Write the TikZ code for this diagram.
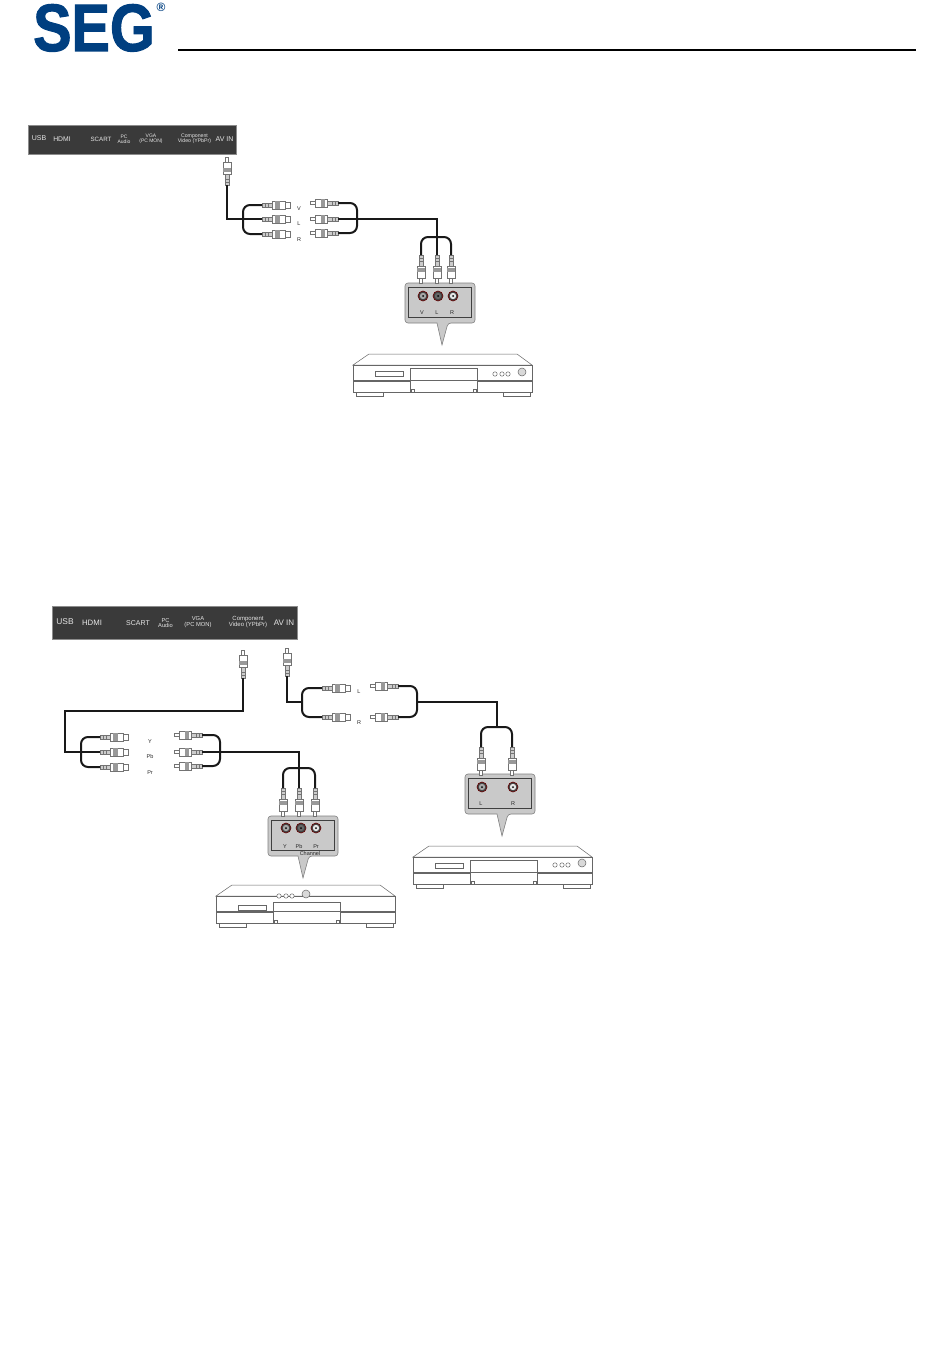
\documentclass[tikz,border=0pt]{standalone}
\usepackage{fontspec}
\setmainfont{Liberation Sans}
\newfontfamily\logofont[BoldFeatures={FakeBold=1.6}]{Liberation Sans}
\usetikzlibrary{calc}
\definecolor{segblue}{HTML}{003F80}
\definecolor{barfill}{HTML}{3A3A3A}
\definecolor{callfill}{HTML}{C9C9C9}
\tikzset{
	cable/.style={line width=2pt, draw=black!90},
	thincable/.style={line width=1.5pt, draw=black!90},
	bar/.style={fill=barfill, draw=black!45, line width=.6pt},
	bigtxt/.style={text=black!10, inner sep=0pt, font=\fontsize{#1}{#1}\selectfont},
	smalltxt/.style={text=black!10, inner sep=0pt, align=center, font=\fontsize{#1}{#1}\selectfont},
	tinytxt/.style={text=black!85, inner sep=0pt, font=\fontsize{5.5}{5.5}\selectfont},
	part/.style={draw=black!60, line width=.5pt},
	jackpart/.style={draw=black!55, line width=.4pt},
	femalejack/.pic={
		\draw[jackpart, fill=black!20] (0,-2) rectangle (10,2);
		\draw[jackpart] (3,-2) -- (3,2) (6,-2) -- (6,2);
		\draw[jackpart, fill=white] (10,-4) rectangle (23,4);
		\fill[black!40] (13,-4) rectangle (18,4);
		\draw[jackpart, fill=white] (23,-3) rectangle (28,3);
		\coordinate (-tail) at (0,0);
	},
	malejack/.pic={
		\draw[jackpart, fill=black!20] (0,-2) rectangle (11,2);
		\draw[jackpart] (3,-2) -- (3,2) (6,-2) -- (6,2);
		\draw[jackpart, fill=white] (11,-4) rectangle (23,4);
		\fill[black!40] (13,-4) rectangle (17,4);
		\draw[jackpart, fill=white] (23,-1.5) rectangle (28,1.5);
		\coordinate (-tail) at (0,0);
	},
	socket/.pic={
		\draw[draw=black!60!red, line width=.6pt, fill=black!75] (0,0) circle (5);
		\fill[#1] (0,0) circle (3.2);
		\fill[black] (0,0) circle (1);
	},
	player/.pic={
		\draw[part, fill=white] (0,0) -- (16,-11) -- (164,-11) -- (179,0) -- cycle;
		\draw[part, fill=white] (0,0) rectangle (179,27);
		\draw[part] (0,15) -- (179,15) (0,16.5) -- (179,16.5);
		\draw[line width=1pt, black!60] (0,27) -- (179,27);
		\draw[part] (3,27) -- (3,31) -- (30,31) -- (30,27);
		\draw[part] (150,27) -- (150,31) -- (177,31) -- (177,27);
		\draw[part, fill=white] (22,6+#1) rectangle (50,11+#1);
		\draw[part, fill=white] (57,3+#1) rectangle (124,27);
		\draw[part] (57,15) -- (124,15);
		\draw[part] (58,24) rectangle (61,27) (120,24) rectangle (123,27);
	},
	controls/.pic={
		\foreach \b in {0,7,13}
		{
			\draw[part, fill=white] (\b,0) circle (2.2);
		}
		\draw[part, fill=black!15] (27,-2) circle (4);
	},
}
\begin{document}
\begin{tikzpicture}[x=1pt, y=-1pt]
\useasboundingbox (0,0) rectangle (950,1370);

\node[text=segblue, inner sep=0pt, anchor=base, xscale=.86, font=\logofont\bfseries\fontsize{67}{67}\selectfont] (logo) at (94,51) {SEG};
\node[text=segblue, inner sep=0pt, font=\bfseries\fontsize{12}{12}\selectfont] (regmark) at (161,7) {®};
\coordinate (ruleA) at (178,50);
\coordinate (ruleB) at (916,50);
\draw[line width=2pt] (ruleA) -- (ruleB);

% upper bar
\draw[bar] (28,125) rectangle (236,154);
\node[bigtxt=7] (1usb) at (39,138.5) {USB};
\node[bigtxt=6.8] (1hdmi) at (62,139) {HDMI};
\node[bigtxt=6.2] (1scart) at (101,139) {SCART};
\node[smalltxt=5] (1pc) at (124,139.5) {PC\\Audio};
\node[smalltxt=5] (1vga) at (151,139) {VGA\\(PC MON)};
\node[smalltxt=5.2] (1comp) at (194.5,139) {Component\\Video (YPbPr)};
\node[bigtxt=7] (1av) at (224.5,139) {AV IN};

\pic[rotate=90] (1T) at (227,185) {malejack};

\foreach \n/\y in {V/205,L/219,R/234}
{
	\pic (1\n f) at (262,\y) {femalejack};
}
\foreach \n/\y in {V/203,L/219,R/233}
{
	\pic[rotate=180] (1\n m) at (338,\y) {malejack};
}
\foreach \n/\y in {V/209,L/224,R/240}
{
	\node[tinytxt] (1lab\n) at (299,\y) {\n};
}
\coordinate (1loopL) at (243,219);
\coordinate (1loopR) at (357,219);
\coordinate (1fork) at (437,237);

\draw[cable, rounded corners=7pt] (1Vf-tail) -| (1loopL) |- (1Rf-tail);
\draw[cable] (1T-tail) |- (1Lf-tail);
\draw[cable, rounded corners=7pt] (1Vm-tail) -| (1loopR) |- (1Rm-tail);

% callouts
\foreach \px/\py/\wx in {405/283/437,268/816/298,465/774/497}
{
	\draw[draw=black!50, fill=callfill, line width=.6pt, rounded corners=3pt] (\px,\py) -- (\px+70,\py) -- (\px+70,\py+40) -- (\wx+11,\py+40) [sharp corners] -- (\wx+5,\py+62) -- (\wx,\py+40) [rounded corners=3pt] -- (\px,\py+40) -- cycle;
	\draw[draw=black!75, line width=.5pt] (\px+3,\py+4) rectangle (\px+66,\py+34);
}

\foreach \n/\x in {V/421,L/437,R/451}
{
	\pic[rotate=-90] (1\n p) at (\x,255) {malejack};
}
\draw[thincable] (1Lm-tail) -| (1Lp-tail);
\draw[cable, rounded corners=7pt] (1Vp-tail) |- (1fork) -| (1Rp-tail);

\pic at (423,296) {socket=black!35};
\pic at (438,296) {socket=black!60};
\pic at (453,296) {socket=black!10};
\node[tinytxt] (1sockV) at (422,313) {V};
\node[tinytxt] (1sockL) at (437,313) {L};
\node[tinytxt] (1sockR) at (452,313) {R};

\pic at (353,365) {player=0};
\pic at (495,374) {controls};

% lower bar
\draw[bar] (52,606) rectangle (297,639.5);
\node[bigtxt=8.4] (2usb) at (65,622) {USB};
\node[bigtxt=7.8] (2hdmi) at (92,623) {HDMI};
\node[bigtxt=7] (2scart) at (138,623) {SCART};
\node[smalltxt=5.7] (2pc) at (165.5,623) {PC\\Audio};
\node[smalltxt=5.8] (2vga) at (198,622) {VGA\\(PC MON)};
\node[smalltxt=6] (2comp) at (248,622) {Component\\Video (YPbPr)};
\node[bigtxt=8] (2av) at (284,622.5) {AV IN};

\pic[rotate=90] (2T) at (243,678) {malejack};
\pic[rotate=90] (3T) at (287,676) {malejack};

% left group
\foreach \n/\y in {V/737,L/752,R/767}
{
	\pic (2\n f) at (100,\y) {femalejack};
}
\foreach \n/\y in {V/735,L/752,R/766}
{
	\pic[rotate=180] (2\n m) at (202,\y) {malejack};
}
\node[tinytxt] (2labY) at (150,742) {Y};
\node[tinytxt] (2labPb) at (150,757) {Pb};
\node[tinytxt] (2labPr) at (150,773) {Pr};

\coordinate (2down) at (65,711);
\coordinate (2loopL) at (81,752);
\coordinate (2loopR) at (220,752);
\coordinate (2fork) at (299,768);

\draw[cable, rounded corners=7pt] (2Vf-tail) -| (2loopL) |- (2Rf-tail);
\draw[cable, rounded corners=7pt] (2Vm-tail) -| (2loopR) |- (2Rm-tail);
\draw[thincable] (2T-tail) |- (2down) |- (2Lf-tail);

\foreach \n/\x in {V/283,L/299,R/315}
{
	\pic[rotate=-90] (2\n p) at (\x,788) {malejack};
}
\draw[thincable] (2Lm-tail) -| (2Lp-tail);
\draw[cable, rounded corners=7pt] (2Vp-tail) |- (2fork) -| (2Rp-tail);

\pic at (286,828) {socket=black!35};
\pic at (301,828) {socket=black!60};
\pic at (316,828) {socket=black!10};
\node[tinytxt] (2sockY) at (285,847) {Y};
\node[tinytxt] (2sockPb) at (299,847) {Pb};
\node[tinytxt] (2sockPr) at (316,847) {Pr};
\node[tinytxt] (2chan) at (310,853.5) {Channel};

\pic at (216,896) {player=3};
\pic at (279,896) {controls};

% right group
\foreach \n/\y in {L/688,R/717}
{
	\pic (3\n f) at (322,\y) {femalejack};
}
\foreach \n/\y in {L/686,R/717}
{
	\pic[rotate=180] (3\n m) at (398,\y) {malejack};
}
\node[tinytxt] (3labL) at (359,692) {L};
\node[tinytxt] (3labR) at (359,723) {R};

\coordinate (3loopL) at (302,702);
\coordinate (3loopR) at (417,702);
\coordinate (3fork) at (497,727);

\draw[cable, rounded corners=7pt] (3Lf-tail) -| (3loopL) |- (3Rf-tail);
\draw[cable, rounded corners=7pt] (3Lm-tail) -| (3loopR) |- (3Rm-tail);
\draw[cable] (3T-tail) |- (3loopL);

\foreach \n/\x in {L/481,R/512}
{
	\pic[rotate=-90] (3\n p) at (\x,747) {malejack};
}
\draw[cable] (3loopR) -| (3fork);
\draw[cable, rounded corners=7pt] (3Lp-tail) |- (3fork) -| (3Rp-tail);

\pic at (482,787) {socket=black!35};
\pic at (513,787) {socket=black!10};
\node[tinytxt] (3sockL) at (481,804) {L};
\node[tinytxt] (3sockR) at (513,804) {R};

\pic at (413,857) {player=0};
\pic at (555,865) {controls};

\end{tikzpicture}
\end{document}
